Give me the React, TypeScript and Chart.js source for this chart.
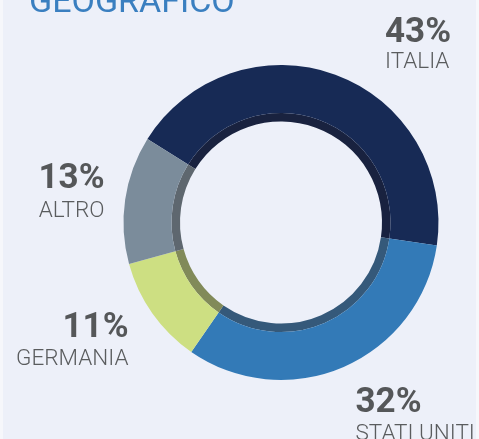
import React, { useEffect, useRef } from "react";
import { Chart, registerables } from "chart.js";

Chart.register(...registerables);

const categories = ["ITALIA", "STATI UNITI", "GERMANIA", "ALTRO"];
const shares = [43, 32, 11, 13];
const shareLabels = ["43%", "32%", "11%", "13%"];
const title = "GEOGRAFICO";

const outerColors = ["#172a55", "#337ab7", "#cddf82", "#7b8c9b"];
const innerColors = ["#19223f", "#35597a", "#818a59", "#5e676f"];

// label layout (canvas coords): x, align, number baseline, name baseline
const labelLayout = [
  { x: 382, align: "left", y1: 41.5, y2: 68 },
  { x: 352.5, align: "left", y1: 411.5, y2: 440 },
  { x: 125.5, align: "right", y1: 336.5, y2: 365 },
  { x: 101.5, align: "right", y1: 188, y2: 216.5 },
];

const labelPlugin = {
  id: "outerLabels",
  afterDraw(chart: any) {
    const ctx = chart.ctx;
    ctx.save();
    ctx.textBaseline = "alphabetic";
    ctx.fillStyle = "#3a7fc0";
    ctx.textAlign = "left";
    ctx.font = "400 34px Roboto";
    ctx.fillText(title, 26, 11.7);
    categories.forEach((name, i) => {
      const l = labelLayout[i];
      ctx.textAlign = l.align;
      ctx.fillStyle = "#555759";
      ctx.font = "700 35px Roboto";
      ctx.fillText(shareLabels[i], l.x, l.y1);
      ctx.fillStyle = "#5a5c5e";
      ctx.font = "300 22.5px Roboto";
      ctx.fillText(name, l.x, l.y2);
    });
    ctx.restore();
  },
};

export default function App() {
  const ref = useRef<HTMLCanvasElement>(null);
  useEffect(() => {
    document.body.style.margin = "0";
    const chart = new Chart(ref.current!, {
      type: "doughnut",
      data: {
        labels: categories,
        datasets: [
          {
            data: shares,
            backgroundColor: outerColors,
            borderWidth: 0,
            weight: 48,
          },
          {
            data: shares,
            backgroundColor: innerColors,
            borderWidth: 0,
            weight: 8.5,
          },
        ],
      },
      options: {
        animation: false,
        responsive: false,
        events: [],
        rotation: -58,
        cutout: 101,
        layout: { padding: { left: 120.5, right: 37.5, top: 65, bottom: 59 } },
        plugins: { legend: { display: false }, tooltip: { enabled: false } },
      },
      plugins: [labelPlugin],
    } as any);
    return () => chart.destroy();
  }, []);
  return (
    <div style={{ position: "relative", width: 479, height: 439, background: "#f6f7fb", overflow: "hidden" }}>
      <div style={{ position: "absolute", left: 3, top: 0, width: 473, height: 439, background: "#edf0f9", overflow: "hidden" }}>
        <canvas ref={ref} width={473} height={439} style={{ display: "block", width: 473, height: 439 }} />
      </div>
    </div>
  );
}
